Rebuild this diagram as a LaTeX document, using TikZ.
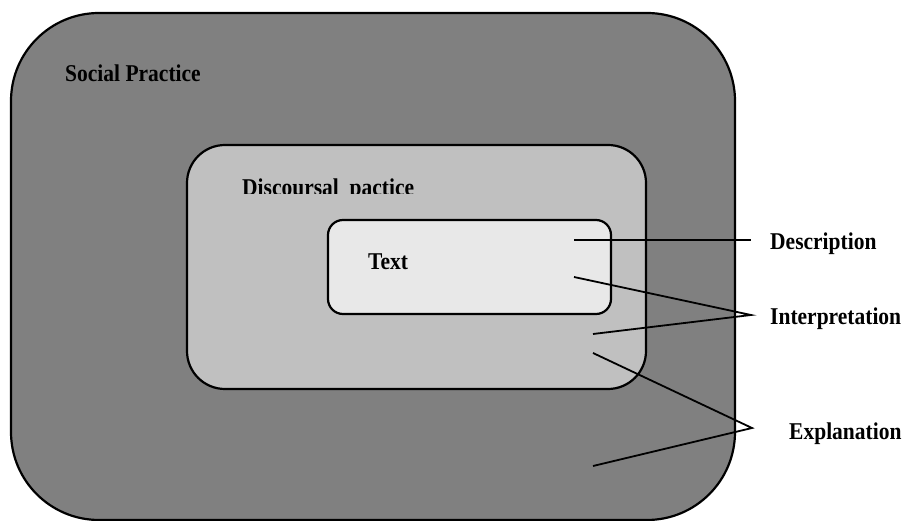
\documentclass[tikz,border=0pt]{standalone}
\usepackage{fontspec}
\usepackage{graphicx}
\setmainfont{Liberation Serif}
\definecolor{outerfill}{RGB}{128,128,128}
\definecolor{midfill}{RGB}{192,192,192}
\definecolor{innerfill}{RGB}{232,232,232}
\newcommand{\tallbf}[1]{\scalebox{1}[1.12]{#1}}
\tikzset{
  box/.style={draw=black, line width=2.2pt},
  lbl/.style={font=\fontsize{21.5}{25}\selectfont\bfseries, inner sep=0pt, anchor=base west},
  conn/.style={draw=black, line width=1.8pt},
}
\begin{document}
\begin{tikzpicture}[x=1pt,y=-1pt]
\useasboundingbox (0,0) rectangle (903,521);
% boxes
\draw[box, fill=outerfill, rounded corners=88pt] (11,13) rectangle (735,520);
\draw[box, fill=midfill, rounded corners=38pt] (187,145) rectangle (646,389);
\draw[box, fill=innerfill, rounded corners=15pt] (328,220) rectangle (611,314);
% labels inside
\node[lbl] (social) at (65,82) {\tallbf{Social Practice}};
\begin{scope}
\clip (230,170) rectangle (430,193.5);
\node[lbl] (disc) at (242,195.5) {\tallbf{Discoursal\ \ pactice}};
\end{scope}
\node[lbl] (text) at (368,270) {\tallbf{Text}};
% right labels
\node[lbl] (desc) at (770,250) {\tallbf{Description}};
\node[lbl] (interp) at (770,325) {\tallbf{Interpretation}};
\node[lbl] (expl) at (789,439) {\tallbf{Explanation}};
% connector points
\coordinate (d1) at (574,240);
\coordinate (d2) at (751,240);
\coordinate (i1) at (574,277);
\coordinate (i2) at (593,334);
\coordinate (ij) at (751,315);
\coordinate (e1) at (593,353);
\coordinate (e2) at (593,466);
\coordinate (ej) at (752,428);
\draw[conn] (d1) -- (d2);
\draw[conn] (i1) -- (ij) -- (i2);
\draw[conn] (e1) -- (ej) -- (e2);
\end{tikzpicture}
\end{document}
